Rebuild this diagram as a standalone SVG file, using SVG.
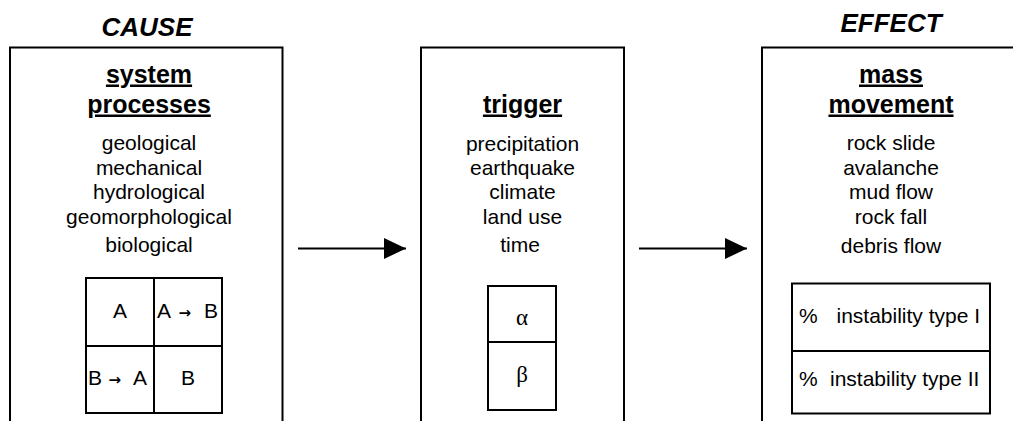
<svg xmlns="http://www.w3.org/2000/svg" width="1013" height="421" viewBox="0 0 1013 421">
  <style>
    .frame { fill: none; stroke: #000; stroke-width: 2; }
    .cell { fill: none; stroke: #000; stroke-width: 2; }
    .head { font-family: "Liberation Sans", Arial, sans-serif; font-size: 26px; font-weight: bold; font-style: italic; text-anchor: middle; fill: #000; }
    .title { font-family: "Liberation Sans", Arial, sans-serif; font-size: 25px; font-weight: bold; text-decoration: underline; text-anchor: middle; fill: #000; }
    .item { font-family: "Liberation Sans", Arial, sans-serif; font-size: 21px; text-anchor: middle; fill: #000; }
    .lbl { font-family: "Liberation Sans", Arial, sans-serif; font-size: 21px; fill: #000; }
    .arr { font-family: "DejaVu Sans", sans-serif; font-size: 15px; font-weight: bold; }
    .greek { font-family: "Liberation Serif", "Times New Roman", serif; font-size: 23px; text-anchor: middle; fill: #000; }
    .conn { stroke: #000; stroke-width: 2; fill: none; }
  </style>
  <defs>
    <marker id="arrow" markerUnits="userSpaceOnUse" markerWidth="22" markerHeight="21" refX="22" refY="10.5" orient="auto">
      <path d="M0,0 L22,10.5 L0,21 Z" fill="#000"/>
    </marker>
  </defs>
  <rect width="1013" height="421" fill="#fff"/>

  <!-- column headings -->
  <text class="head" x="147" y="35.5">CAUSE</text>
  <text class="head" x="891" y="32">EFFECT</text>

  <!-- cause: system processes -->
  <g id="system-processes">
    <rect class="frame" x="10" y="47.5" width="272.5" height="400"/>
    <text class="title" x="149" y="82.5">system</text>
    <text class="title" x="149" y="112.5">processes</text>
    <text class="item" x="149" y="150">geological</text>
    <text class="item" x="149" y="174.5">mechanical</text>
    <text class="item" x="149" y="199">hydrological</text>
    <text class="item" x="149" y="223.5">geomorphological</text>
    <text class="item" x="149" y="252">biological</text>
    <g id="interaction-grid">
      <rect class="cell" x="86" y="278" width="136" height="135"/>
      <line class="cell" x1="154" y1="278" x2="154" y2="413"/>
      <line class="cell" x1="86" y1="346" x2="222" y2="346"/>
      <text class="item" x="120" y="318">A</text>
      <text class="lbl" y="318"><tspan x="157">A</tspan><tspan class="arr" x="178.5">→</tspan><tspan x="204">B</tspan></text>
      <text class="lbl" y="385"><tspan x="88">B</tspan><tspan class="arr" x="108.5">→</tspan><tspan x="133">A</tspan></text>
      <text class="item" x="188" y="385">B</text>
    </g>
  </g>

  <!-- trigger -->
  <g id="trigger">
    <rect class="frame" x="421" y="47.5" width="203" height="400"/>
    <text class="title" x="522.5" y="112.5">trigger</text>
    <text class="item" x="522.5" y="151">precipitation</text>
    <text class="item" x="522.5" y="175">earthquake</text>
    <text class="item" x="522.5" y="199">climate</text>
    <text class="item" x="522.5" y="223.5">land use</text>
    <text class="item" x="520" y="252" font-size="19">time</text>
    <g id="alpha-beta">
      <rect class="cell" x="488" y="286" width="68" height="124"/>
      <line class="cell" x1="488" y1="342" x2="556" y2="342"/>
      <text class="greek" x="522" y="325">α</text>
      <text class="greek" x="522" y="382">β</text>
    </g>
  </g>

  <!-- effect: mass movement -->
  <g id="mass-movement">
    <rect class="frame" x="762" y="47.5" width="300" height="400"/>
    <text class="title" x="891" y="82.5">mass</text>
    <text class="title" x="891" y="112.5">movement</text>
    <text class="item" x="891" y="150">rock slide</text>
    <text class="item" x="891" y="174.5">avalanche</text>
    <text class="item" x="891" y="199">mud flow</text>
    <text class="item" x="891" y="223.5">rock fall</text>
    <text class="item" x="891" y="253">debris flow</text>
    <g id="instability-types">
      <rect class="cell" x="792" y="283.5" width="198" height="130"/>
      <line class="cell" x1="792" y1="351" x2="990" y2="351"/>
      <text class="lbl" y="323"><tspan x="799">%</tspan><tspan x="836.5">instability type I</tspan></text>
      <text class="lbl" y="386"><tspan x="799">%</tspan><tspan x="830">instability type II</tspan></text>
    </g>
  </g>

  <!-- connectors -->
  <g id="connectors">
    <line class="conn" x1="298" y1="248.5" x2="406" y2="248.5" marker-end="url(#arrow)"/>
    <line class="conn" x1="639" y1="248.5" x2="747" y2="248.5" marker-end="url(#arrow)"/>
  </g>
</svg>
